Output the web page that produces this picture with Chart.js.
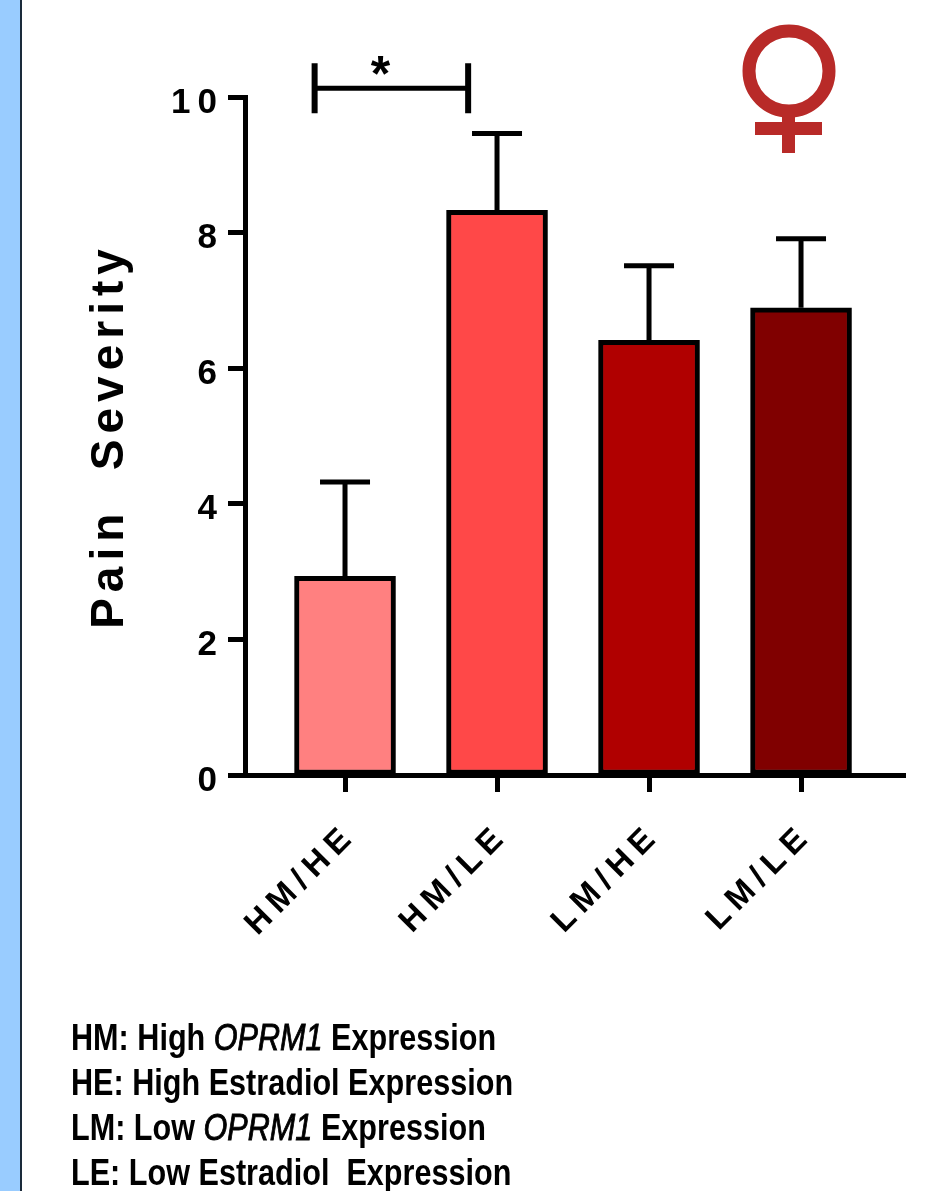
<!DOCTYPE html>
<html>
<head>
<meta charset="utf-8">
<style>
  html, body { margin: 0; padding: 0; background: #fff; overflow: hidden; }
  #wrap { position: relative; width: 929px; height: 1191px; overflow: hidden; }
  #strip { position: absolute; left: 0; top: 0; width: 20px; height: 1191px; background: #99ccff; border-right: 2px solid #1a2a3a; }
  #chart { position: absolute; left: 0; top: 0; }
  #sign { position: absolute; left: 730px; top: 15px; }
  #notes { position: absolute; left: 71px; top: 1015px; font: bold 36px/45px "Liberation Sans", sans-serif; color: #000; white-space: pre; transform: scaleX(0.85); transform-origin: left top; }
  #notes i { font-weight: normal; -webkit-text-stroke: 0.9px #000; }
</style>
</head>
<body>
<div id="wrap">
  <div id="strip"></div>
  <canvas id="chart" width="929" height="1191"></canvas>
  <svg id="sign" width="120" height="145" viewBox="730 15 120 145">
    <circle cx="789" cy="71" r="40" fill="none" stroke="#b82a28" stroke-width="13"></circle>
    <rect x="782" y="115" width="13" height="38" fill="#b82a28"></rect>
    <rect x="755" y="122" width="67" height="13" fill="#b82a28"></rect>
  </svg>
  <div id="notes">HM: High <i>OPRM1</i> Expression
HE: High Estradiol Expression
LM: Low <i>OPRM1</i> Expression
LE: Low Estradiol  Expression</div>
</div>
<script src="https://cdn.jsdelivr.net/npm/chart.js@4"></script>
<script>
const categories = ['HM/HE', 'HM/LE', 'LM/HE', 'LM/LE'];
const positions = [1, 2, 3, 4];
const barValues = [2.93, 8.33, 6.41, 6.89];
const errorTops = [4.32, 9.46, 7.51, 7.91];
const barColors = ['#ff8080', '#ff4848', '#b00000', '#800000'];
// significance bracket, in x/y axis units
const bracketFrom = 0.80;
const bracketTo = 1.81;
const bracketLevel = 10.13;

const inkPlugin = {
    id: 'ink',
    beforeDraw(chart) {
        // spaced out glyphs on tick labels, like the original figure
        chart.ctx.letterSpacing = '7px';
    },
    afterDatasetsDraw(chart) {
        const ctx = chart.ctx;
        const x = chart.scales.x;
        const y = chart.scales.y;
        ctx.save();
        ctx.strokeStyle = '#000';
        ctx.lineWidth = 5;
        // error bars, upper side only
        positions.forEach((p, i) => {
            const px = x.getPixelForValue(p);
            const top = y.getPixelForValue(errorTops[i]);
            const base = y.getPixelForValue(barValues[i]);
            ctx.beginPath();
            ctx.moveTo(px, base);
            ctx.lineTo(px, top);
            ctx.moveTo(px - 25, top);
            ctx.lineTo(px + 25, top);
            ctx.stroke();
        });
        ctx.restore();
    },
    afterDraw(chart) {
        const ctx = chart.ctx;
        const x = chart.scales.x;
        const y = chart.scales.y;
        const x0 = x.getPixelForValue(bracketFrom);
        const x1 = x.getPixelForValue(bracketTo);
        const level = y.getPixelForValue(bracketLevel);
        ctx.save();
        ctx.strokeStyle = '#000';
        ctx.fillStyle = '#000';
        ctx.lineWidth = 5;
        ctx.beginPath();
        ctx.moveTo(x0, level);
        ctx.lineTo(x1, level);
        ctx.stroke();
        ctx.lineWidth = 6;
        ctx.beginPath();
        ctx.moveTo(x0, level - 25);
        ctx.lineTo(x0, level + 25);
        ctx.moveTo(x1, level - 25);
        ctx.lineTo(x1, level + 25);
        ctx.stroke();
        ctx.letterSpacing = '0px';
        ctx.textAlign = 'center';
        ctx.textBaseline = 'alphabetic';
        ctx.font = 'bold 50px "Liberation Sans"';
        ctx.fillText('*', (x0 + x1) / 2 - 11, level + 3);
        // y axis title
        ctx.translate(123, 436);
        ctx.rotate(-Math.PI / 2);
        ctx.letterSpacing = '6px';
        ctx.font = 'bold 46px "Liberation Sans"';
        ctx.fillText('Pain  Severity', 0, 0);
        ctx.restore();
    }
};

new Chart(document.getElementById('chart').getContext('2d'), {
    type: 'bar',
    data: {
        datasets: [{
            data: positions.map((p, i) => ({ x: p, y: barValues[i] })),
            backgroundColor: barColors,
            borderColor: '#000',
            borderWidth: 5,
            borderSkipped: false,
            barThickness: 101
        }]
    },
    options: {
        responsive: false,
        animation: false,
        layout: { padding: { top: 97, right: 24 } },
        plugins: {
            legend: { display: false },
            tooltip: { enabled: false }
        },
        scales: {
            x: {
                type: 'linear',
                min: 0.342,
                max: 4.684,
                offset: false,
                afterBuildTicks(scale) {
                    scale.ticks = positions.map(p => ({ value: p }));
                },
                afterFit(scale) {
                    scale.height = 416;
                },
                grid: { drawOnChartArea: false, color: '#000', tickLength: 17, tickWidth: 5, offset: false },
                border: { color: '#000', width: 5 },
                ticks: {
                    autoSkip: false,
                    maxRotation: 45,
                    minRotation: 45,
                    padding: 24,
                    labelOffset: 6,
                    color: '#000',
                    font: { family: '"Liberation Sans"', size: 33, weight: 'bold' },
                    callback: value => categories[positions.indexOf(value)]
                }
            },
            y: {
                min: 0,
                max: 10,
                afterFit(scale) {
                    scale.width = 245;
                },
                grid: { drawOnChartArea: false, color: '#000', tickLength: 17, tickWidth: 5 },
                border: { color: '#000', width: 5 },
                ticks: {
                    stepSize: 2,
                    padding: 4,
                    labelOffset: 6,
                    color: '#000',
                    font: { family: '"Liberation Sans"', size: 35, weight: 'bold' }
                }
            }
        }
    },
    plugins: [inkPlugin]
});
</script>
</body>
</html>
